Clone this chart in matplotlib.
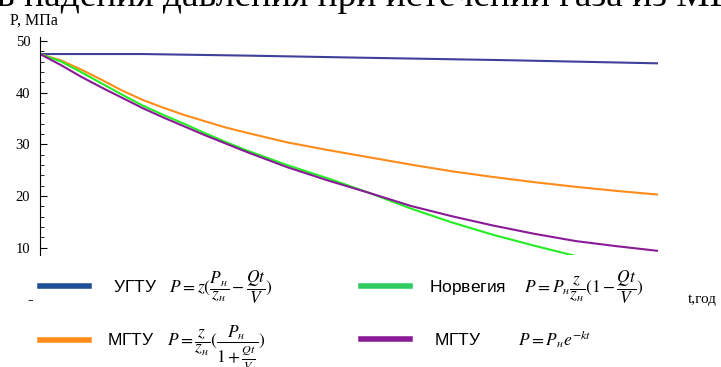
import matplotlib
matplotlib.use('Agg')
import matplotlib.pyplot as plt
from matplotlib.ticker import MultipleLocator

plt.rcParams['mathtext.fontset'] = 'stix'

# время, годы (ось без подписей), давление, МПа
t_ugtu = [0, 5, 10, 15.5, 22.8, 30]
p_ugtu = [47.5, 47.5, 47.2, 46.8, 46.3, 45.7]

t = [0, 1, 2, 3, 4, 5, 6, 7, 8, 9, 10, 12, 14, 16, 18, 20, 22, 24, 26, 28, 30]
p_mgtu1 = [47.5, 46.3, 44.5, 42.5, 40.4, 38.6, 37.1, 35.7, 34.5, 33.3, 32.3,
           30.4, 28.9, 27.5, 26.1, 24.8, 23.7, 22.7, 21.8, 21.0, 20.3]
p_mgtu2 = [47.5, 45.4, 43.1, 41.0, 39.0, 37.0, 35.2, 33.5, 31.8, 30.2, 28.6,
           25.6, 23.0, 20.6, 18.1, 16.1, 14.3, 12.7, 11.3, 10.3, 9.4]

t_norw = [0, 1, 2, 3, 4, 5, 6, 7, 8, 9, 10, 12, 14, 16, 18, 20, 22, 24, 26, 27]
p_norw = [47.5, 46.1, 44.0, 41.8, 39.6, 37.5, 35.7, 34.0, 32.2, 30.5, 28.9,
          26.0, 23.4, 20.6, 17.6, 14.9, 12.5, 10.4, 8.4, 7.5]

lab_ugtu = r'УГТУ   $P = z(\dfrac{P_н}{z_н} - \dfrac{Qt}{V})$'
lab_mgtu1 = r'МГТУ   $P = \dfrac{z}{z_н}(\dfrac{P_н}{1 + \frac{Qt}{V}})$'
lab_norw = r'Норвегия    $P = P_н\dfrac{z}{z_н}(1 - \dfrac{Qt}{V})$'
lab_mgtu2 = r'МГТУ        $P = P_н e^{-kt}$'

fig = plt.figure(figsize=(7.21, 3.67), dpi=100)
ax = fig.add_axes([40/721, 112/367, 618/721, 218/367])

l1, = ax.plot(t_ugtu, p_ugtu, color='#3f3f9c', lw=1.5)
l2, = ax.plot(t, p_mgtu1, color='#ff8c1a', lw=1.5)
l3, = ax.plot(t_norw, p_norw, color='#22ee22', lw=1.5)
l4, = ax.plot(t, p_mgtu2, color='#8a1a96', lw=1.5)

ax.set_xlim(0, 30)
ax.set_ylim(8.6, 50.8)
for s in ['top', 'right', 'bottom']:
    ax.spines[s].set_visible(False)
ax.set_xticks([])
ax.yaxis.set_major_locator(MultipleLocator(10))
ax.yaxis.set_minor_locator(MultipleLocator(2))
ax.tick_params(axis='y', which='major', direction='in', length=5, pad=7, labelsize=10.5)
ax.tick_params(axis='y', which='minor', direction='in', length=3)
for lb in ax.get_yticklabels():
    lb.set_family('Liberation Serif')

fig.text(-0.004, 361/367, 'в падения давления при истечении газа из МГ',
         fontsize=27, family='Liberation Serif', va='baseline')
fig.text(10/721, 342/367, 'P, МПа', fontsize=11.5, family='Liberation Serif',
         va='baseline')
fig.text(688/721, 67/367, 't,год', fontsize=11, family='Liberation Serif',
         va='center')
fig.text(27/721, 67/367, '–', fontsize=8, va='center')

entries = [
    (l1, lab_ugtu, 40, 287, '#1f4e96', 1.38),
    (l2, lab_mgtu1, 40, 348, '#ff8c1a', 1.05),
    (l3, lab_norw, 361, 287, '#2ecc60', 1.1),
    (l4, lab_mgtu2, 361, 339, '#8a1a96', 1.4),
]
for h, lab, x, y, c, pad in entries:
    leg = fig.legend([h], [lab], loc='center left',
                     bbox_to_anchor=(x/721, 1 - y/367), frameon=False,
                     handlelength=2.8, handletextpad=pad, borderpad=0,
                     borderaxespad=0, prop={'family': 'Liberation Sans', 'size': 12.5})
    lh = leg.legend_handles[0]
    lh.set_linewidth(4)
    lh.set_color(c)

fig.savefig('out.png', dpi=100)
